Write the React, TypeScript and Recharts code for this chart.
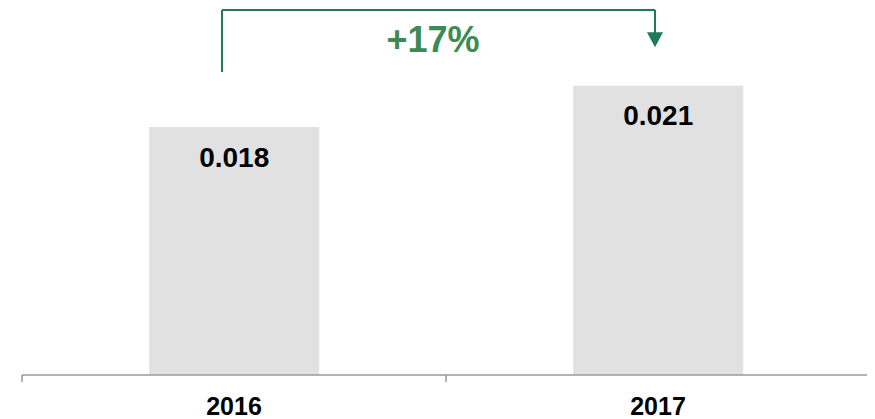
import React from 'react';
import {
  BarChart,
  Bar,
  XAxis,
  YAxis,
  LabelList,
  ReferenceLine,
  ReferenceDot,
} from 'recharts';

const years = ['2016', '2017'];
const values = [0.018, 0.021];
const slots = [0.5, 1.5]; // category centres on the 0..2 edge axis
const changeLabel = '+17%';

const data = years.map((year, i) => ({ year, value: values[i], slot: slots[i] }));

const GREEN_LINE = '#1f7a57';
const GREEN_TEXT = '#3d8b53';
const FONT = '"Liberation Sans", Arial, sans-serif';

const YearTick = (props: any) => {
  const { x, y, payload } = props;
  return (
    <text
      x={x}
      y={y + 15}
      textAnchor="middle"
      dominantBaseline="central"
      fontFamily={FONT}
      fontWeight="bold"
      fontSize={25}
      fill="#000"
    >
      {payload.value}
    </text>
  );
};

const ValueLabel = (props: any) => {
  const { x, y, width, value } = props;
  return (
    <text
      x={x + width / 2}
      y={y + 30}
      textAnchor="middle"
      dominantBaseline="central"
      fontFamily={FONT}
      fontWeight="bold"
      fontSize={28}
      fill="#000"
    >
      {value.toFixed(3)}
    </text>
  );
};

// vertical segment ending in a down-pointing arrowhead
const ArrowDown = (props: any) => {
  const { x1, y1, x2, y2 } = props;
  const top = Math.min(y1, y2);
  const tip = Math.max(y1, y2);
  return (
    <g>
      <line x1={x1} y1={top} x2={x2} y2={tip - 12} stroke={GREEN_LINE} strokeWidth={2} />
      <path d={`M${x2 - 8},${tip - 15} L${x2 + 8},${tip - 15} L${x2},${tip} Z`} fill={GREEN_LINE} />
    </g>
  );
};

const ChangeText = (props: any) => (
  <text
    x={props.cx}
    y={props.cy}
    textAnchor="middle"
    dominantBaseline="central"
    fontFamily={FONT}
    fontWeight="bold"
    fontSize={36}
    fill={GREEN_TEXT}
  >
    {changeLabel}
  </text>
);

export default function App() {
  return (
    <BarChart
      width={867}
      height={411}
      data={data}
      margin={{ top: 2, right: 5, left: 14, bottom: 0 }}
      barCategoryGap="30%"
    >
      <XAxis
        xAxisId="axisA"
        dataKey="slot"
        type="number"
        domain={[0, 2]}
        allowDataOverflow
        ticks={[0, 1, 2]}
        tickFormatter={() => ''}
        tickSize={7}
        height={8}
        stroke="#999"
        strokeWidth={1.5}
      />
      <XAxis
        xAxisId="axisB"
        dataKey="year"
        axisLine={false}
        tickLine={false}
        height={36}
        tick={<YearTick />}
        interval={0}
      />
      <YAxis hide domain={[0, 0.0265]} allowDataOverflow />
      <Bar dataKey="value" xAxisId="axisB" fill="#e1e1e1" isAnimationActive={false}>
        <LabelList dataKey="value" content={<ValueLabel />} />
      </Bar>
      <ReferenceLine
        xAxisId="axisA"
        ifOverflow="visible"
        segment={[{ x: 0.4717, y: 0.022 }, { x: 0.4717, y: 0.0265 }]}
        stroke={GREEN_LINE}
        strokeWidth={2}
      />
      <ReferenceLine
        xAxisId="axisA"
        ifOverflow="visible"
        segment={[{ x: 0.4717, y: 0.0265 }, { x: 1.4929, y: 0.0265 }]}
        stroke={GREEN_LINE}
        strokeWidth={2}
      />
      <ReferenceLine
        xAxisId="axisA"
        ifOverflow="visible"
        segment={[{ x: 1.4929, y: 0.0265 }, { x: 1.4929, y: 0.0238 }]}
        shape={<ArrowDown />}
      />
      <ReferenceDot
        xAxisId="axisA"
        x={0.9693}
        y={0.02439}
        r={0}
        ifOverflow="visible"
        shape={<ChangeText />}
      />
    </BarChart>
  );
}
